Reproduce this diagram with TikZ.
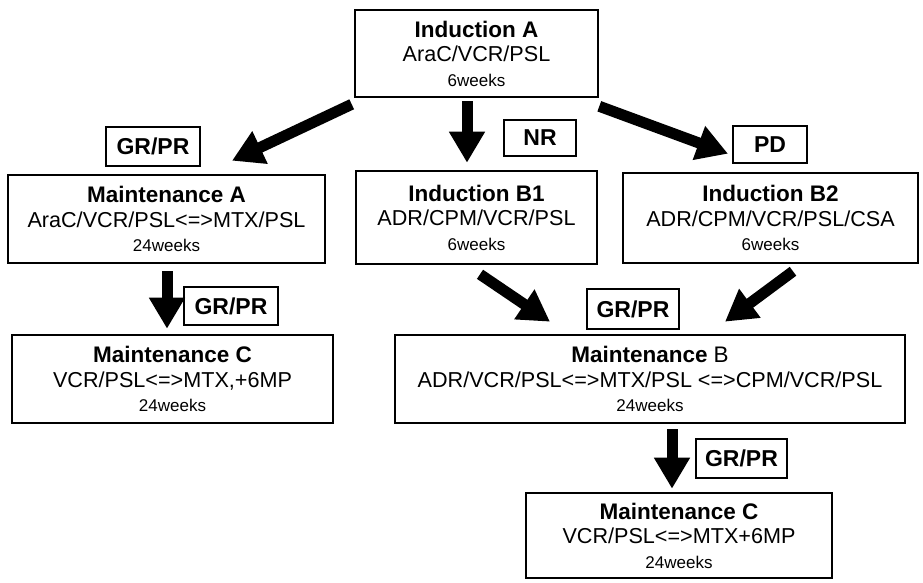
\documentclass[tikz,border=0pt]{standalone}
\usepackage{fontspec}
\setmainfont{Liberation Sans}
\usetikzlibrary{arrows.meta,calc}
\tikzset{
  box/.style={draw=black, line width=2.6pt, fill=white, inner sep=0pt, align=center, font=\fontsize{21.6}{24.5}\selectfont},
  tag/.style={draw=black, line width=2.6pt, fill=white, inner sep=0pt, align=center, font=\bfseries\fontsize{23}{24}\selectfont},
  bigarrow/.style={line width=11pt, -{Triangle[length=31pt,width=34pt]}}
}
\newcommand{\wk}[1]{{\fontsize{17}{20}\selectfont #1}}
\newcommand{\ttl}[1]{{\bfseries\fontsize{22.5}{24.5}\selectfont #1}}
\begin{document}
\begin{tikzpicture}[x=1pt,y=-1pt]
\useasboundingbox (0,0) rectangle (923,583);
% boxes
\node[box, minimum width=243pt, minimum height=87pt] (indA) at (476.5,53.5)
  {\ttl{Induction A}\\AraC/VCR/PSL\\\wk{6weeks}};
\node[box, minimum width=317pt, minimum height=88pt] (maintA) at (166.5,219)
  {\ttl{Maintenance A}\\AraC/VCR/PSL<=>MTX/PSL\\\wk{24weeks}};
\node[box, minimum width=241pt, minimum height=93pt] (indB1) at (476.5,217.5)
  {\ttl{Induction B1}\\ADR/CPM/VCR/PSL\\\wk{6weeks}};
\node[box, minimum width=295pt, minimum height=90pt] (indB2) at (770.5,218)
  {\ttl{Induction B2}\\ADR/CPM/VCR/PSL/CSA\\\wk{6weeks}};
\node[box, minimum width=321pt, minimum height=88pt] (maintC1) at (172.5,379)
  {\ttl{Maintenance C}\\VCR/PSL<=>MTX,+6MP\\\wk{24weeks}};
\node[box, minimum width=510pt, minimum height=88pt] (maintB) at (650,379)
  {\ttl{Maintenance} {\fontsize{22.5}{24.5}\selectfont B}\\ADR/VCR/PSL<=>MTX/PSL <=>CPM/VCR/PSL\\\wk{24weeks}};
\node[box, minimum width=306pt, minimum height=85pt] (maintC2) at (679,535.5)
  {\ttl{Maintenance C}\\VCR/PSL<=>MTX+6MP\\\wk{24weeks}};
% tags
\node[tag, minimum width=94pt, minimum height=39pt] (gr1) at (153,146.5) {GR/PR};
\node[tag, minimum width=72pt, minimum height=36pt] (nr) at (540,138) {NR};
\node[tag, minimum width=74pt, minimum height=37pt] (pd) at (770,144.5) {PD};
\node[tag, minimum width=92pt, minimum height=40pt] (gr2) at (633,309) {GR/PR};
\node[tag, minimum width=91pt, minimum height=39pt] (gr3) at (741.5,458.5) {GR/PR};
\node[tag, minimum width=94pt, minimum height=38pt] (gr4) at (231,306) {GR/PR};
% arrows
\draw[bigarrow] ($(indA.south west)+(-2,6)$) -- ($(maintA.north)+(65.5,-13)$);
\draw[bigarrow] ($(indA.south)+(-9.5,3)$) -- ($(indB1.north)+(-9.5,-7)$);
\draw[bigarrow] ($(indA.south east)+(0,8)$) -- ($(indB2.north)+(-42.5,-18)$);
\draw[bigarrow] ($(maintA.south)+(0.5,7)$) -- ($(maintC1.north)+(-5.5,-5)$);
\draw[bigarrow] ($(indB1.south)+(3.5,9)$) -- ($(maintB.north)+(-100,-12)$);
\draw[bigarrow] ($(indB2.south)+(22.5,7)$) -- ($(maintB.north)+(75,-12)$);
\draw[bigarrow] ($(maintB.south)+(22,5)$) -- ($(maintC2.north)+(-7,-3)$);
\end{tikzpicture}
\end{document}
